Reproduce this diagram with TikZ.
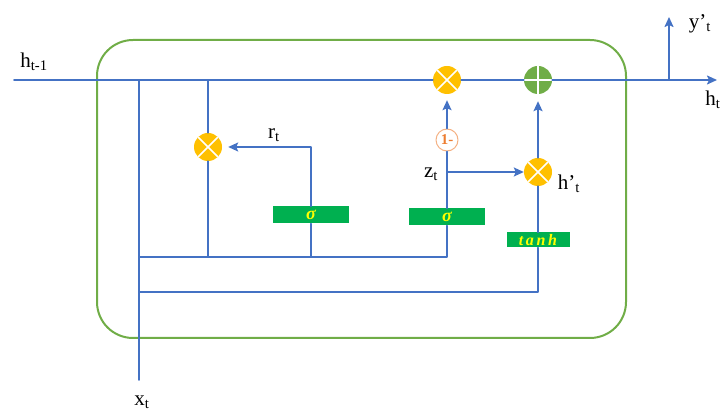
\documentclass[tikz,border=0pt]{standalone}
\usepackage{fontspec}
\setmainfont{Liberation Serif}
\usetikzlibrary{arrows.meta}

\definecolor{lineblue}{RGB}{68,114,196}
\definecolor{framegreen}{RGB}{112,173,71}
\definecolor{gategreen}{RGB}{0,176,80}
\definecolor{mulyellow}{RGB}{255,192,0}
\definecolor{textyellow}{RGB}{255,255,0}
\definecolor{ringorange}{RGB}{244,177,131}
\definecolor{oneorange}{RGB}{237,125,49}

\tikzset{
  wire/.style={lineblue,line width=1.8pt},
  mul/.style={circle,fill=mulyellow,minimum size=28pt,inner sep=0pt,
    path picture={\draw[white,line width=1.6pt]
      (path picture bounding box.north west) -- (path picture bounding box.south east)
      (path picture bounding box.north east) -- (path picture bounding box.south west);}},
  add/.style={circle,fill=framegreen,minimum size=28pt,inner sep=0pt,
    path picture={\draw[white,line width=1.6pt]
      (path picture bounding box.north) -- (path picture bounding box.south)
      (path picture bounding box.east) -- (path picture bounding box.west);}},
  gate/.style={fill=gategreen,minimum width=76pt,minimum height=17pt,inner sep=0pt,
    text=textyellow,font=\fontsize{18}{18}\selectfont\bfseries\itshape},
  lbl/.style={font=\fontsize{21}{21}\selectfont,inner sep=1pt},
}

\begin{document}
\begin{tikzpicture}[x=1pt,y=-1pt,line cap=round,line join=round,
  >={Stealth[length=10pt,width=9pt,inset=2pt]}]
  \useasboundingbox (0,0) rectangle (723,411);
  % cell frame
  \draw[framegreen,line width=2pt,rounded corners=36pt] (97,40) rectangle (626,338);

  % end points and junctions
  \coordinate (hin) at (14,80);
  \coordinate (hout) at (717,80);
  \coordinate (ybase) at (669,80);
  \coordinate (ytop) at (669,17);
  \coordinate (xin) at (139,380);
  \coordinate (xtop) at (139,80);
  \coordinate (busa) at (139,257);
  \coordinate (busb) at (139,292);
  \coordinate (zjoin) at (447,172);

  % operators and gates
  \node[mul] (rmul) at (208,147) {};
  \node[mul] (zmul) at (447,80) {};
  \node[add] (plus) at (538,80) {};
  \node[mul] (hmul) at (538,172) {};
  \node[circle,draw=ringorange,line width=1pt,fill=white,minimum size=22pt,inner sep=0pt,
    text=oneorange,font=\fontsize{15}{15}\selectfont\bfseries] (onem) at (447,140) {1-};
  \node[gate] (rgate) at (311,215) {σ};
  \node[gate] (zgate) at (447,217) {σ};
  \node[gate,minimum width=63pt,minimum height=15pt,font=\fontsize{16}{16}\selectfont\bfseries\itshape] (cand) at (538,240) {t\,a\,n\,h};

  % labels
  \node[lbl] (hprev) at (34,62) {h\textsubscript{t-1}};
  \node[lbl] (hnext) at (713,100) {h\textsubscript{t}};
  \node[lbl] (yout) at (700,24) {y’\textsubscript{t}};
  \node[lbl] (xlab) at (142,402) {x\textsubscript{t}};
  \node[lbl] (rlab) at (274,135) {r\textsubscript{t}};
  \node[lbl] (zlab) at (431,174) {z\textsubscript{t}};
  \node[lbl] (hplab) at (569,184) {h’\textsubscript{t}};

  % hidden state line
  \draw[wire] (hin) -- (zmul);
  \draw[wire] (zmul) -- (plus);
  \draw[wire,->] (plus) -- (hout);
  \draw[wire,->] (ybase) -- (ytop);

  % input and buses
  \draw[wire] (xin) -- (xtop);
  \draw[wire] (busa) -- (busa -| zgate) -- (zgate);
  \draw[wire] (busb) -- (busb -| cand) -- (cand);
  \draw[wire] (rgate) -- (rgate |- busa);
  \draw[wire] (rmul) -- (rmul |- busa);
  \draw[wire] (rmul) -- (rmul |- hin);

  % gate outputs
  \draw[wire,->,shorten >=6pt] (rgate) |- (rmul);
  \draw[wire] (zgate) -- (onem);
  \draw[wire,->,shorten >=6pt] (onem) -- (zmul);
  \draw[wire,->] (zjoin) -- (hmul);
  \draw[wire] (cand) -- (hmul);
  \draw[wire,->,shorten >=7pt] (hmul) -- (plus);
\end{tikzpicture}
\end{document}
